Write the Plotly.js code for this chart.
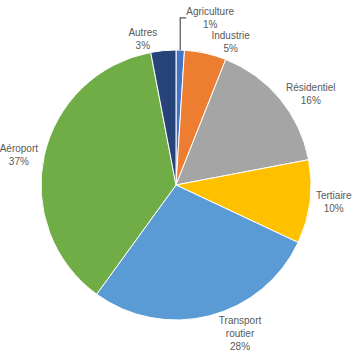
<!DOCTYPE html>
<html>
<head>
<meta charset="utf-8">
<script src="https://cdn.plot.ly/plotly-3.0.1.min.js"></script>
<style>html,body{margin:0;padding:0;background:#fff;}#chart{width:361px;height:358px;}</style>
</head>
<body>
<div id="chart"></div>
<script>
var categories = ["Agriculture", "Industrie", "Résidentiel", "Tertiaire", "Transport<br>routier", "Aéroport", "Autres"];
var values = [1, 5, 16, 10, 28, 37, 3];
var sliceColors = ["#4472C4", "#ED7D31", "#A5A5A5", "#FFC000", "#5B9BD5", "#70AD47", "#264478"];

var trace = {
  type: "pie",
  labels: categories,
  values: values,
  sort: false,
  direction: "clockwise",
  rotation: 0,
  marker: {colors: sliceColors, line: {color: "#ffffff", width: 1}},
  textposition: "outside",
  texttemplate: "%{label}<br>%{percent:.0%}",
  textfont: {family: "Liberation Sans, Arial, sans-serif", size: 10, color: "#595959"},
  outsidetextfont: {family: "Liberation Sans, Arial, sans-serif", size: 10, color: "#595959"},
  showlegend: false,
  hoverinfo: "label+percent"
};

var layout = {
  width: 361,
  height: 358,
  margin: {l: 41, r: 50, t: 50, b: 38},
  paper_bgcolor: "#ffffff",
  showlegend: false
};

Plotly.newPlot("chart", [trace], layout, {displayModeBar: false, staticPlot: true});
</script>
</body>
</html>
